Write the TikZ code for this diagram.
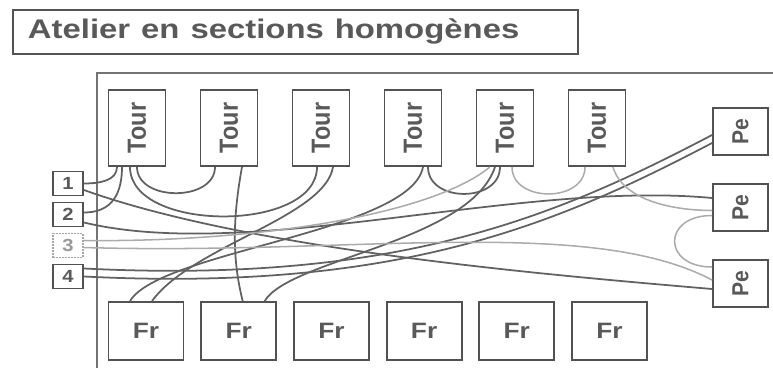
\documentclass[tikz,border=0pt]{standalone}
\usepackage{fontspec}
\setmainfont{Liberation Sans}
\usepackage{graphicx}
\usetikzlibrary{calc}

\newcommand{\widetext}[2]{\scalebox{#1}[1]{#2}}
\newcommand{\uptext}[2]{\rotatebox{90}{\scalebox{1}[#1]{#2}}}

\begin{document}
\begin{tikzpicture}[x=0.03cm, y=-0.03cm,
  box/.style={draw=black!68, line width=1.6pt, fill=white, text=black!65, inner sep=0pt},
  titlebox/.style={box, minimum width=16.95cm, minimum height=1.32cm, text width=16.05cm,
    inner xsep=0.45cm, align=left, font=\fontsize{23}{24}\bfseries},
  tourbox/.style={box, minimum width=1.71cm, minimum height=2.28cm, font=\fontsize{20}{21}\bfseries},
  pebox/.style={box, minimum width=1.65cm, minimum height=1.41cm, font=\fontsize{18}{19}\bfseries},
  frbox/.style={box, minimum width=2.25cm, minimum height=1.74cm, font=\fontsize{19}{20}\bfseries},
  numbox/.style={box, minimum width=0.9cm, minimum height=0.72cm, font=\fontsize{15}{16}\bfseries},
  numboxfaint/.style={numbox, draw=black!35, densely dotted, text=black!40},
  wire/.style={draw=black!62, line width=1.5pt},
  faint/.style={draw=black!33, line width=1.3pt},
  frame/.style={draw=black!55, line width=1.3pt}
]
  \useasboundingbox (0,0) rectangle (773,368);

  % Title
  \node[titlebox, anchor=north west] (title) at (12,9) {\widetext{1.22}{Atelier en sections homogènes}};

  % Workshop outline
  \draw[frame] (97,368) |- (773,73);

  % Machines: lathes on top, mills below, drills on the right
  \foreach \i in {1,...,6} {
    \node[tourbox] (tour\i) at ({137+92*(\i-1)},128) {\uptext{1.12}{Tour}};
    \node[frbox] (fr\i) at ({146+92.7*(\i-1)},331) {\widetext{1.18}{Fr}};
  }
  \foreach \i in {1,2,3} {
    \node[pebox] (pe\i) at (740.5,{131.5+76*(\i-1)}) {\uptext{1.1}{Pe}};
  }

  % Numbered inputs
  \foreach \i/\st in {1/numbox,2/numbox,3/numboxfaint,4/numbox} {
    \node[\st] (n\i) at (68,{183.5+31*(\i-1)}) {\widetext{1.15}{\i}};
  }

  % Short feeds from 1 and 2 into first lathe
  \draw[wire] ($(tour1.south)+(-20,0)$) .. controls +(0,14) and +(15,0) .. (n1.east);
  \draw[wire] ($(tour1.south)+(-15,0)$) .. controls +(0,34) and +(22,0) .. ($(n2.east)+(0,-2)$);

  % Loops between lathes
  \draw[wire] (tour1.south) .. controls +(0,35) and +(0,35) .. ($(tour2.south)+(-14,0)$);
  \draw[wire] ($(tour1.south)+(-7,0)$) .. controls +(0,66) and +(0,66) .. ($(tour3.south)+(-4,0)$);
  \draw[wire] ($(tour4.south)+(15,0)$) .. controls +(0,36) and +(0,36) .. ($(tour5.south)+(-5,0)$);
  \draw[faint] ($(tour5.south)+(7,0)$) .. controls +(0,36) and +(0,36) .. ($(tour6.south)+(-12,0)$);

  % Lathes down to mills
  \draw[wire] ($(tour2.south)+(13,0)$) .. controls +(-10,55) and +(-10,-40) .. ($(fr2.north)+(4,0)$);
  \draw[wire] ($(tour3.south)+(12,0)$) .. controls +(-8,50) and +(40,-55) .. ($(fr1.north)+(6,0)$);
  \draw[wire] ($(tour4.south)+(10,0)$) .. controls +(-12,65) and +(30,-50) .. ($(fr1.north)+(-16,0)$);
  \draw[wire] ($(tour5.south)+(-10,0)$) .. controls +(-25,75) and +(25,-42) .. ($(fr2.north)+(26,0)$);

  % Long wires from the inputs to the drills
  \draw[wire] ($(n1.east)+(0,6.5)$) .. controls +(167,60) and +(-163,-14) .. ($(pe3.west)+(0,5.5)$);
  \draw[wire] ($(n2.east)+(0,8)$) .. controls +(167,40) and +(-193,-18) .. ($(pe2.west)+(0,-9.5)$);
  \draw[wire] ($(n4.east)+(0,-8)$) .. controls +(317,16) and +(-153,80) .. ($(pe1.west)+(0,3.5)$);
  \draw[wire] (n4.east) .. controls +(317,16) and +(-153,80) .. ($(pe1.west)+(0,11.5)$);
  \draw[faint] ($(n3.east)+(0,-5)$) .. controls +(167,2) and +(-60,49) .. ($(tour5.south)+(-15,0)$);
  \draw[faint] ($(n3.east)+(0,2)$) .. controls +(267,8) and +(-123,-65) .. ($(pe3.west)+(0,-3.5)$);

  % Drills on the right
  \draw[faint] ($(tour6.south)+(16,0)$) .. controls +(10,35) and +(-35,0) .. ($(pe2.west)+(0,3)$);
  \draw[faint] ($(pe2.west)+(0,8)$) .. controls +(-50,0) and +(-50,0) .. ($(pe3.west)+(0,-16.5)$);
\end{tikzpicture}
\end{document}
